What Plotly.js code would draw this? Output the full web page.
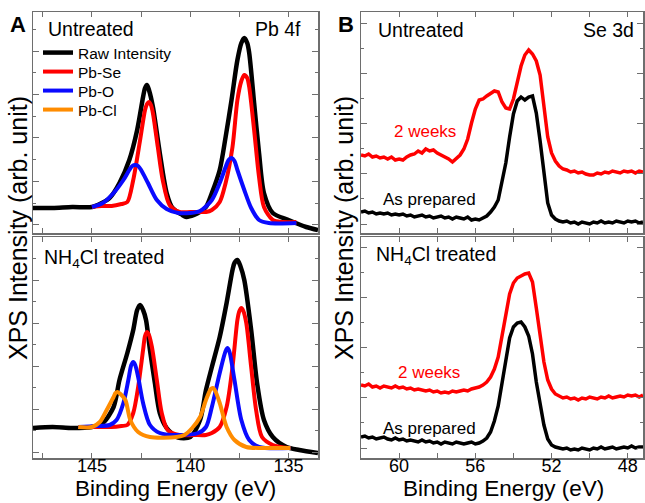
<!DOCTYPE html>
<html>
<head>
<meta charset="utf-8">
<script src="https://cdn.plot.ly/plotly-3.0.1.min.js"></script>
<style>html,body{margin:0;padding:0;background:#fff;}#chart{width:645px;height:503px;}</style>
</head>
<body>
<div id="chart"></div>
<script>
// ---------- Panel A, untreated (Pb 4f) ----------
const aTopRawE = [148.0,147.0,146.0,145.0,144.5,144.1,143.6,143.1,142.7,142.4,142.3,142.2,142.1,141.9,141.55,141.2,140.9,140.4,140.2,139.8,139.5,139.2,138.9,138.5,138.2,137.9,137.6,137.4,137.25,137.1,137.0,136.75,136.5,136.25,135.8,135.0,134.1,133.5];
const aTopRawI = [25,25,26,26,30,35,50,73,103,136,145,148,143,126,80,40,25,18,16,18,21,26,40,63,96,133,173,190,195,190,180,130,80,40,20,13,6,3];
const aTopSeE = [145.0,144.5,144.0,143.5,143.2,142.9,142.55,142.3,142.2,142.1,142.0,141.9,141.65,141.4,141.05,140.55,140.0,139.5,139.2,138.9,138.5,138.2,137.85,137.6,137.4,137.25,137.1,137.0,136.75,136.5,136.25,135.8,135.3,134.6];
const aTopSeI = [26,27,27,29,31,53,93,123,129,131,128,120,86,53,28,21,21,21,21,23,31,50,86,133,152,158,155,146,103,56,26,13,11,11];
const aTopOE = [145.0,144.45,143.9,143.4,143.1,142.95,142.8,142.65,142.5,142.15,141.7,141.2,140.6,140.0,139.5,138.9,138.5,138.2,138.05,137.9,137.75,137.6,137.25,136.9,136.5,136.0,134.6];
const aTopOI = [26,30,40,53,63,67,68,67,63,50,33,24,20,20,22,33,50,66,73,75,72,63,43,25,13,10,10];

// ---------- Panel A, NH4Cl treated ----------
const aBotRawE = [148.0,147.0,146.0,145.0,144.45,143.9,143.6,143.2,142.9,142.7,142.55,142.4,142.25,142.05,141.8,141.55,141.2,140.7,140.5,140.0,139.5,139.2,138.9,138.5,138.15,137.85,137.75,137.6,137.45,137.25,136.9,136.6,136.25,135.8,135.1,134.45,133.5];
const aBotRawI = [30,31,30,31,35,51,78,105,128,148,153,148,138,108,75,45,30,21,20,21,38,68,91,121,155,188,195,198,192,178,128,75,38,21,11,8,5];
const aBotSeE = [145.7,145.0,144.0,143.5,143.2,142.9,142.65,142.4,142.3,142.2,142.1,141.95,141.7,141.45,141.15,140.55,139.8,139.2,138.9,138.5,138.15,137.85,137.6,137.5,137.4,137.3,137.15,136.9,136.65,136.35,135.8,135.0,134.9];
const aBotSeI = [31,31,31,32,33,45,71,108,122,126,123,111,78,45,28,23,23,23,25,31,51,91,138,147,150,147,135,91,48,21,13,10,10];
const aBotOE = [145.7,144.8,144.1,143.75,143.4,143.15,143.0,142.9,142.8,142.65,142.4,142.05,141.55,140.55,139.6,139.2,138.9,138.5,138.2,138.1,138.0,137.75,137.4,137.0,136.5,134.9];
const aBotOI = [31,32,33,38,55,78,93,96,93,81,55,33,25,23,25,31,51,85,107,110,106,78,38,18,11,10];
const aBotClE = [145.7,145.0,144.6,144.25,143.9,143.8,143.7,143.55,143.3,143.05,142.65,142.05,140.7,140.3,139.9,139.5,139.2,138.95,138.85,138.75,138.5,138.15,137.75,137.15,136.35,134.9];
const aBotClI = [31,31,36,48,61,65,66,64,58,38,26,21,21,23,30,41,58,69,70,68,55,31,18,11,10,10];

// ---------- Panel B (Se 3d), common energy grid ----------
const bE = [62.0,61.8,61.6,61.4,61.2,61.0,60.8,60.6,60.4,60.2,60.0,59.8,59.6,59.4,59.2,59.0,58.8,58.6,58.4,58.2,58.0,57.8,57.6,57.4,57.2,57.0,56.8,56.6,56.4,56.2,56.0,55.8,55.6,55.4,55.2,55.0,54.8,54.6,54.4,54.2,54.0,53.8,53.6,53.4,53.2,53.0,52.8,52.6,52.4,52.2,52.0,51.8,51.6,51.4,51.2,51.0,50.8,50.6,50.4,50.2,50.0,49.8,49.6,49.4,49.2,49.0,48.8,48.6,48.4,48.2,48.0,47.8,47.6,47.4,47.2];
const bTopWeeks = [78,77,79,76,77,75,76,74,76,73,74,73,76,78,79,82,80,84,82,83,80,78,76,74,71,74,78,84,94,110,124,133,134,137,140,142,141,131,125,124,134,152,167,178,183,179,172,158,125,96,80,72,67,64,63,61,62,60,61,59,58,58,60,59,61,60,62,61,60,62,61,62,60,62,61];
const bTopPrep = [21,22,20,21,19,20,19,20,18,19,18,19,17,18,16,17,18,16,17,15,16,17,15,16,14,16,15,14,16,13,14,13,15,17,21,26,33,50,70,96,119,132,136,133,136,137,120,92,64,30,18,14,12,11,12,10,11,9,11,10,9,11,10,12,10,11,10,12,11,10,12,11,12,10,11];
const bBotWeeks = [73,72,74,71,72,70,72,71,70,72,70,71,69,70,68,69,68,67,68,66,67,65,66,65,67,66,67,68,67,69,70,71,73,76,81,89,101,122,145,164,175,180,182,184,185,176,150,122,96,78,69,64,62,60,61,59,60,58,60,59,61,60,59,61,60,62,60,61,62,61,63,62,63,61,63];
const bBotPrep = [21,22,20,21,19,20,21,19,18,20,18,19,17,18,17,16,18,16,17,15,16,14,16,15,14,16,15,14,15,16,14,15,17,20,26,37,52,74,101,120,131,135,136,131,122,104,76,52,33,19,13,11,10,9,10,8,9,8,10,9,8,10,9,11,9,10,11,9,10,11,10,12,10,11,11];

const FONT = 'Liberation Sans, Arial, sans-serif';
const RED = '#ff0000', BLUE = '#0a0aff', ORANGE = '#ff8c00', BLACK = '#000000';

function tr(x, y, color, width, xa, ya, name, legend, shape) {
  const t = {x: x, y: y, type: 'scatter', mode: 'lines', name: name, showlegend: !!legend,
    xaxis: xa, yaxis: ya, line: {color: color, width: width, shape: shape || 'spline', smoothing: 0.8},
    hoverinfo: 'skip'};
  if (legend) t.legend = legend;
  return t;
}

const data = [
  tr(aTopRawE, aTopRawI, BLACK, 4.5, 'x', 'y', 'Raw Intensity', 'legend'),
  tr(aTopSeE, aTopSeI, RED, 4, 'x', 'y', 'Pb-Se', 'legend2'),
  tr(aTopOE, aTopOI, BLUE, 4, 'x', 'y', 'Pb-O', 'legend3'),
  tr(aBotRawE, aBotRawI, BLACK, 4.5, 'x2', 'y2', 'Raw Intensity'),
  tr(aBotSeE, aBotSeI, RED, 4, 'x2', 'y2', 'Pb-Se'),
  tr(aBotOE, aBotOI, BLUE, 4, 'x2', 'y2', 'Pb-O'),
  tr(aBotClE, aBotClI, ORANGE, 4, 'x2', 'y2', 'Pb-Cl', 'legend4'),
  tr(bE, bTopWeeks, RED, 3.5, 'x3', 'y3', '2 weeks', null, 'linear'),
  tr(bE, bTopPrep, BLACK, 3.5, 'x3', 'y3', 'As prepared', null, 'linear'),
  tr(bE, bBotWeeks, RED, 3.5, 'x4', 'y4', '2 weeks', null, 'linear'),
  tr(bE, bBotPrep, BLACK, 3.5, 'x4', 'y4', 'As prepared', null, 'linear')
];

const W = 645, H = 503;
const px = v => v / W, py = v => 1 - v / H;
const AXC = '#6e6e6e';

function xax(domain, range, dtick, minorDtick, tick0, anchor, labels) {
  return {domain: domain, range: range, anchor: anchor, showline: true, linecolor: AXC, linewidth: 1.5,
    mirror: 'allticks', ticks: 'inside', ticklen: 5, tickwidth: 1, tickcolor: AXC,
    tick0: tick0, dtick: dtick, showticklabels: labels, showgrid: false, zeroline: false,
    ticklabelstandoff: -9,
    tickfont: {family: FONT, size: 18, color: '#000'},
    minor: {dtick: minorDtick, tick0: tick0, ticks: 'inside', ticklen: 5, tickcolor: AXC, tickwidth: 1}};
}
function yax(domain, tick0, dtick, anchor) {
  return {domain: domain, range: [0, 221], anchor: anchor, showline: true, linecolor: AXC, linewidth: 1.5,
    mirror: 'allticks', ticks: 'inside', ticklen: 6, tickwidth: 1, tickcolor: AXC,
    tick0: tick0, dtick: 2 * dtick, showticklabels: false, showgrid: false, zeroline: false,
    minor: {dtick: dtick, tick0: tick0, ticks: 'inside', ticklen: 3, tickcolor: AXC, tickwidth: 1}};
}

const domA = [px(33), px(318)], domB = [px(361), px(643)];
const domTop = [py(233), py(12)], domBot = [py(458), py(237)];

const leg = (centerY) => ({x: px(38), y: py(centerY - 17), xanchor: 'left', yanchor: 'top',
  bgcolor: 'rgba(0,0,0,0)', font: {family: FONT, size: 15.5, color: '#000'}, itemwidth: 30});

const ann = (text, x, y, size, opts) => Object.assign({text: text, x: px(x), y: py(y), xref: 'paper', yref: 'paper',
  showarrow: false, xanchor: 'left', yanchor: 'middle', font: {family: FONT, size: size, color: '#000'}}, opts || {});

const layout = {
  width: W, height: H, margin: {l: 0, r: 0, t: 0, b: 0}, paper_bgcolor: '#fff', plot_bgcolor: '#fff',
  font: {family: FONT},
  xaxis: xax(domA, [148, 133.5], 5, 2.5, 135, 'y', false),
  yaxis: yax(domTop, 8.3, 21.7, 'x'),
  xaxis2: xax(domA, [148, 133.5], 5, 2.5, 135, 'y2', true),
  yaxis2: yax(domBot, 6, 21.5, 'x2'),
  xaxis3: xax(domB, [62, 47.2], 4, 2, 48, 'y3', false),
  yaxis3: yax(domTop, 9, 25.1, 'x3'),
  xaxis4: xax(domB, [62, 47.2], 4, 2, 48, 'y4', true),
  yaxis4: yax(domBot, 10, 25.1, 'x4'),
  showlegend: true,
  legend: leg(53), legend2: leg(72), legend3: leg(91), legend4: leg(110),
  annotations: [
    ann('<b>A</b>', 8, 25, 22),
    ann('<b>B</b>', 336, 25, 22),
    ann('Untreated', 46, 29, 19.5),
    ann('Pb 4f', 303, 29, 19.5, {xanchor: 'right'}),
    ann('NH<sub>4</sub>Cl treated', 42, 258, 19.5),
    ann('Untreated', 376, 30, 19.5),
    ann('Se 3d', 636, 30, 19.5, {xanchor: 'right'}),
    ann('NH<sub>4</sub>Cl treated', 374, 256, 19.5),
    ann('2 weeks', 392, 131, 17, {font: {family: FONT, size: 17, color: RED}}),
    ann('As prepared', 381, 199, 17),
    ann('2 weeks', 396, 372, 17, {font: {family: FONT, size: 17, color: RED}}),
    ann('As prepared', 381, 428, 17),
    ann('XPS Intensity (arb. unit)', 18, 228, 25, {xanchor: 'center', textangle: -90}),
    ann('XPS Intensity (arb. unit)', 344, 228, 25, {xanchor: 'center', textangle: -90}),
    ann('Binding Energy (eV)', 175, 488, 22.5, {xanchor: 'center'}),
    ann('Binding Energy (eV)', 503, 488, 22.5, {xanchor: 'center'})
  ]
};

Plotly.newPlot('chart', data, layout, {staticPlot: true, displayModeBar: false});
</script>
</body>
</html>
